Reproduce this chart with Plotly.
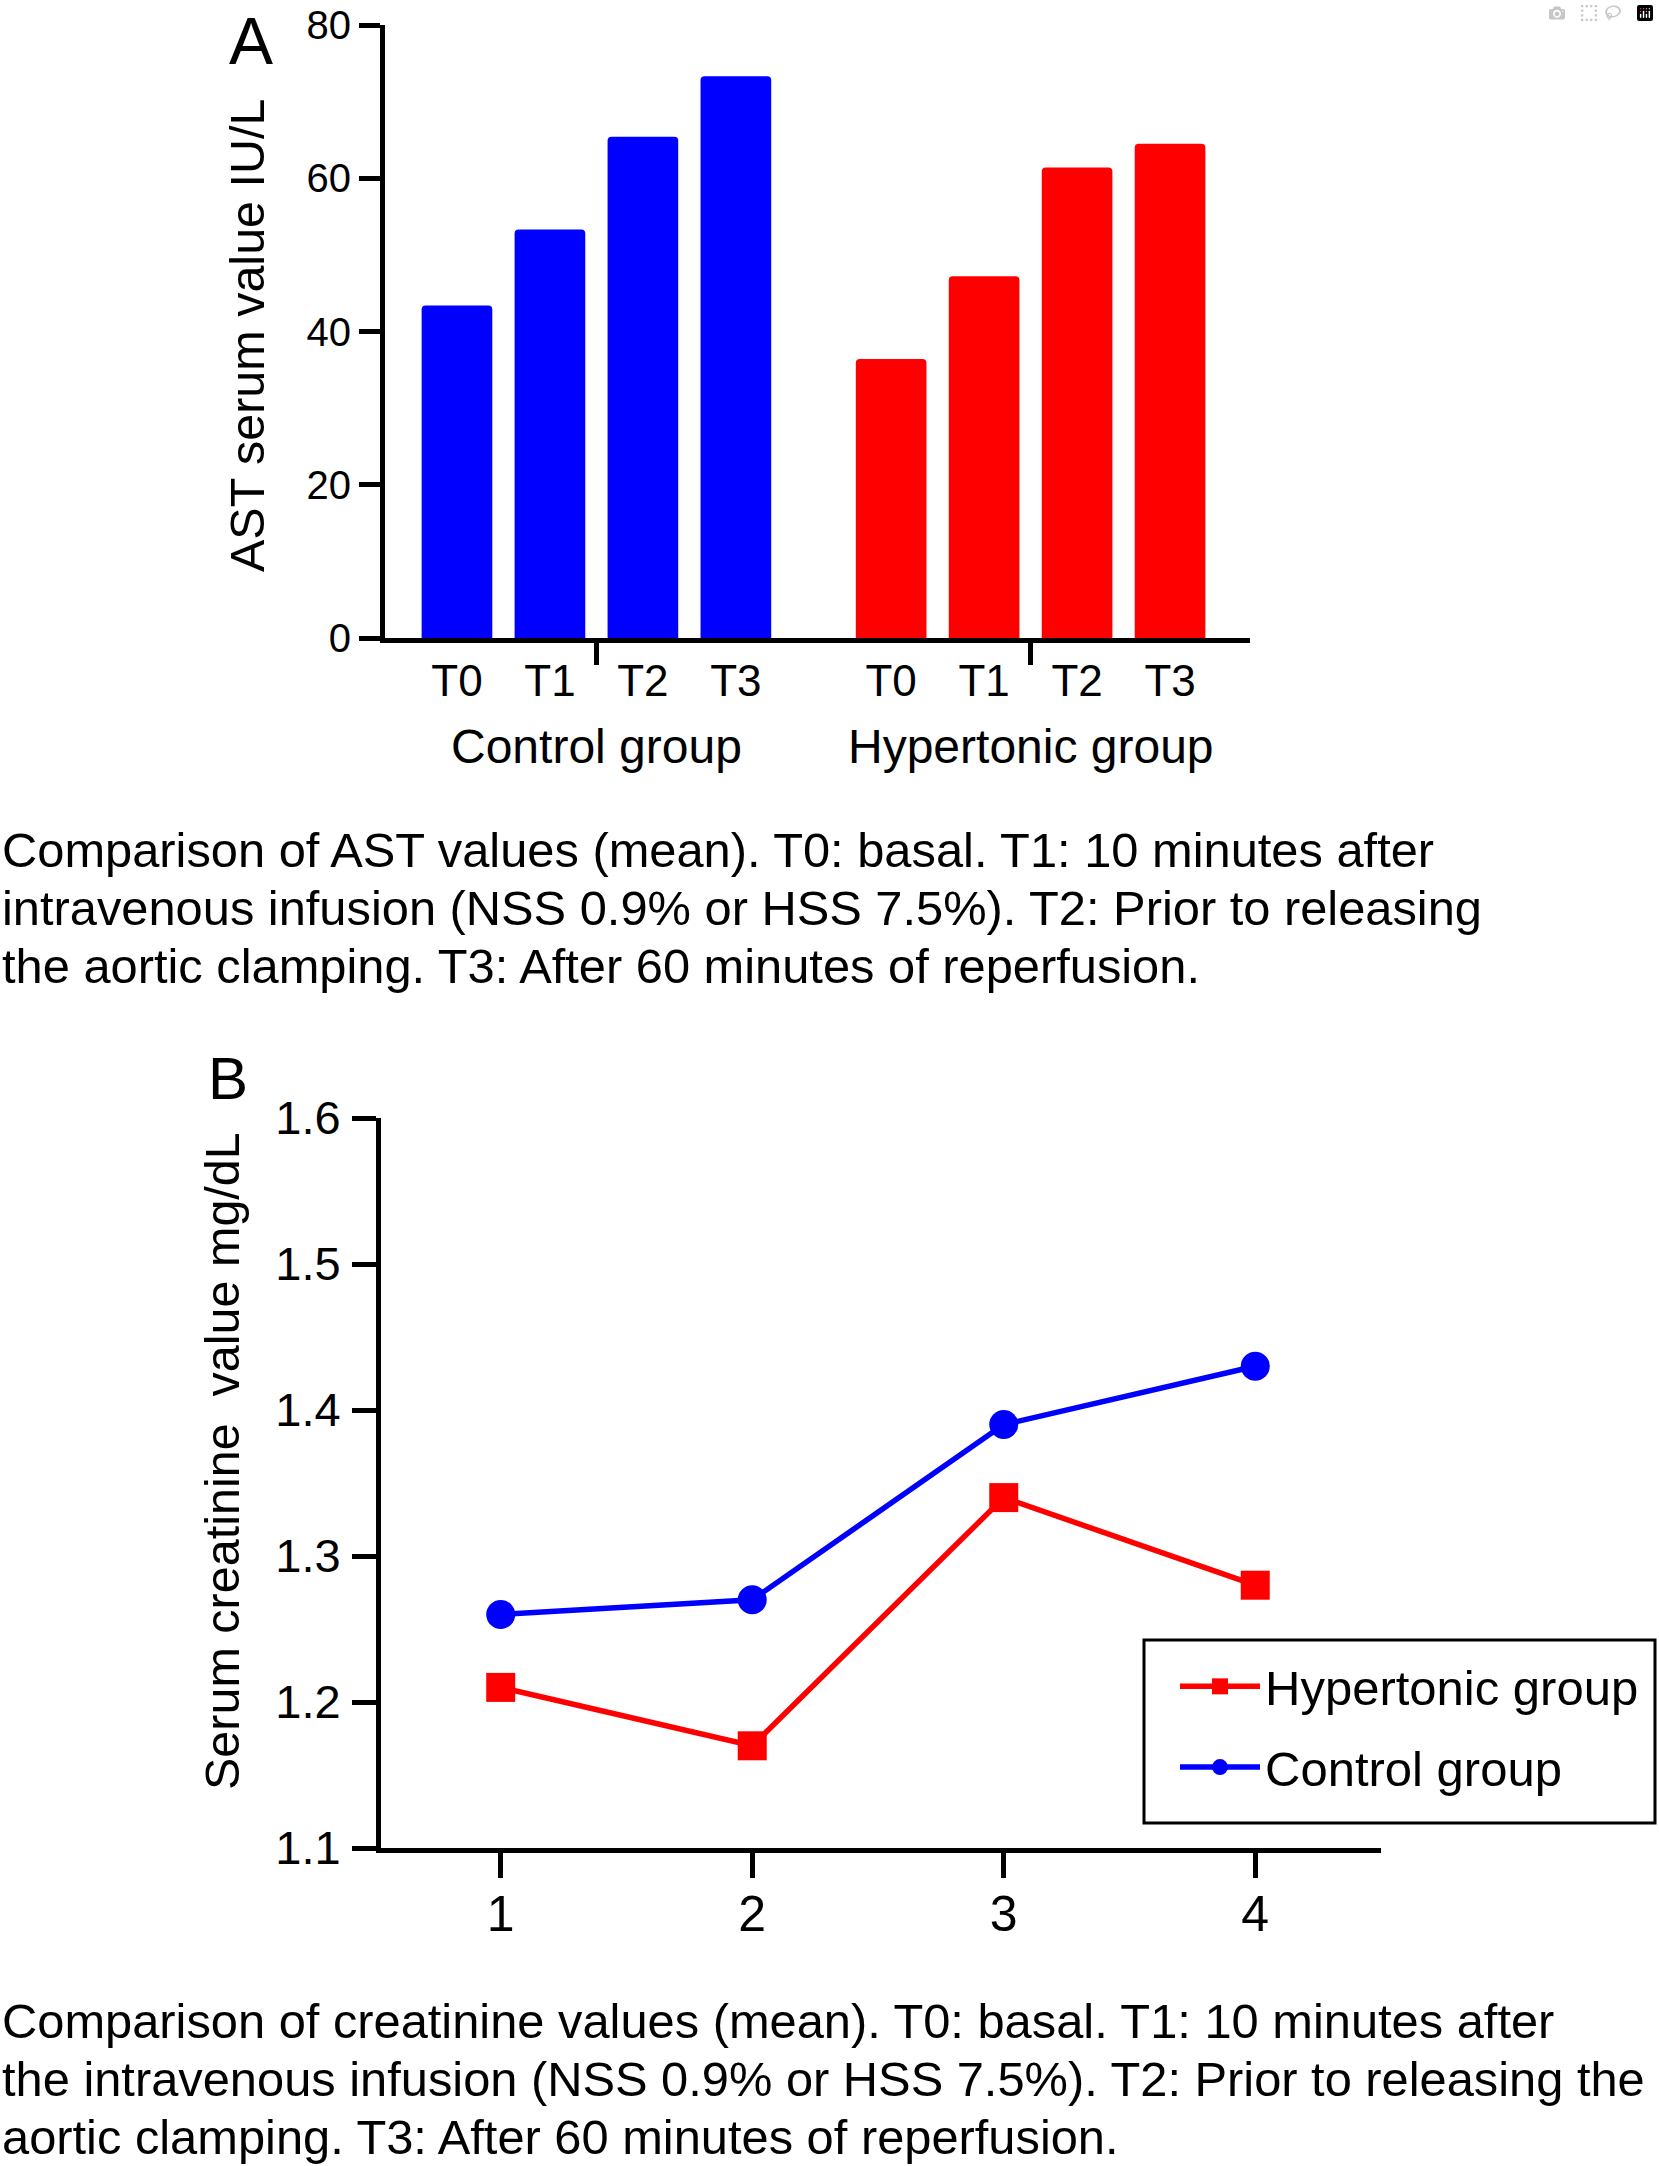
import plotly.graph_objects as go

# Panel A - AST serum values (mean, IU/L)
time_labels = ["T0", "T1", "T2", "T3"]
group_names = ["Control group", "Hypertonic group"]
ast_control = [43.4, 53.3, 65.4, 73.3]
ast_hypertonic = [36.4, 47.2, 61.4, 64.5]

# Panel B - serum creatinine (mean, mg/dL)
sample_points = [1, 2, 3, 4]
creat_hypertonic = [1.21, 1.17, 1.34, 1.28]
creat_control = [1.26, 1.27, 1.39, 1.43]

caption_a = [
    "Comparison of AST values (mean). T0: basal. T1: 10 minutes after",
    "intravenous infusion (NSS 0.9% or HSS 7.5%). T2: Prior to releasing",
    "the aortic clamping. T3: After 60 minutes of reperfusion.",
]
caption_b = [
    "Comparison of creatinine values (mean). T0: basal. T1: 10 minutes after",
    "the intravenous infusion (NSS 0.9% or HSS 7.5%). T2: Prior to releasing the",
    "aortic clamping. T3: After 60 minutes of reperfusion.",
]

W, H = 1659, 2166
FONT = "Liberation Sans, Arial, Helvetica, sans-serif"
BLUE = "#0000ff"
RED = "#ff0000"


def px_x(px):
    return px / W


def px_y(py):
    return 1 - py / H


# bar layout: 4 bars per group, gap between the groups
group_step = 4.67
bar_x = [[i + g * group_step for i in range(len(time_labels))] for g in range(2)]
group_centers = [sum(xs) / len(xs) for xs in bar_x]

fig = go.Figure()

fig.add_trace(go.Bar(x=bar_x[0], y=ast_control, width=0.76,
                     marker=dict(color=BLUE, line_width=0, cornerradius=4),
                     showlegend=False, xaxis="x", yaxis="y"))
fig.add_trace(go.Bar(x=bar_x[1], y=ast_hypertonic, width=0.76,
                     marker=dict(color=RED, line_width=0, cornerradius=4),
                     showlegend=False, xaxis="x", yaxis="y"))

fig.add_trace(go.Scatter(x=sample_points, y=creat_hypertonic, mode="lines+markers",
                         name="Hypertonic group", legendgroup="h",
                         line=dict(color=RED, width=5.5),
                         marker=dict(symbol="square", size=29, color=RED),
                         xaxis="x2", yaxis="y2"))
fig.add_trace(go.Scatter(x=sample_points, y=creat_control, mode="lines+markers",
                         name="Control group", legendgroup="c",
                         line=dict(color=BLUE, width=5.5),
                         marker=dict(symbol="circle", size=29, color=BLUE),
                         xaxis="x2", yaxis="y2"))

axis_common = dict(showline=True, linecolor="black", linewidth=5,
                   showgrid=False, zeroline=False, tickcolor="black",
                   tickwidth=5, automargin=False, fixedrange=True)

# x ranges chosen so the axis frame starts where the reference puts it
xr_a = [-0.774, 8.53]
xr_b = [0.524, 4.5]
fig.update_layout(
    width=W, height=H,
    margin=dict(l=0, r=0, t=0, b=0, autoexpand=False),
    paper_bgcolor="white", plot_bgcolor="white",
    font=dict(family=FONT, color="black"),
    barmode="overlay",
    xaxis=dict(axis_common, domain=[px_x(385), px_x(1250)], range=xr_a,
               anchor="y", tickvals=[v for xs in bar_x for v in xs],
               ticktext=time_labels * 2, ticks="", ticklabelstandoff=0,
               tickfont=dict(size=44),
               minor=dict(tickmode="array", tickvals=group_centers,
                          ticks="outside", ticklen=22, tickwidth=5,
                          tickcolor="black", showgrid=False)),
    yaxis=dict(axis_common, domain=[px_y(638), px_y(25)], range=[0, 80],
               anchor="x", tickvals=[0, 20, 40, 60, 80], ticks="outside",
               ticklen=21, ticklabelstandoff=0, tickfont=dict(size=40)),
    xaxis2=dict(axis_common, domain=[px_x(381), px_x(1381)], range=xr_b,
                anchor="y2", tickvals=sample_points, ticks="outside",
                ticklen=25, ticklabelstandoff=-7, tickfont=dict(size=50)),
    yaxis2=dict(axis_common, domain=[px_y(1848), px_y(1118)], range=[1.1, 1.6],
                anchor="x2", tickvals=[1.1, 1.2, 1.3, 1.4, 1.5, 1.6],
                tickformat=".1f", ticks="outside", ticklen=24,
                ticklabelstandoff=2, tickfont=dict(size=47)),
    legend=dict(x=px_x(1150), y=px_y(1648), xanchor="left", yanchor="top",
                borderwidth=0, bgcolor="rgba(0,0,0,0)",
                font=dict(size=49), itemwidth=80, indentation=25,
                tracegroupgap=14, traceorder="grouped"),
    showlegend=True,
    # frame drawn around the legend
    shapes=[dict(type="rect", xref="paper", yref="paper",
                 x0=px_x(1144), x1=px_x(1655), y0=px_y(1823), y1=px_y(1640),
                 line=dict(color="black", width=3))],
)

annotations = [
    dict(text="A", x=px_x(251), y=px_y(41), font=dict(size=66)),
    dict(text="B", x=px_x(228), y=px_y(1078), font=dict(size=60)),
    dict(text="AST serum value IU/L", x=px_x(247), y=px_y(335),
         textangle=-90, font=dict(size=48.5)),
    dict(text="Serum creatinine \u00a0value mg/dL", x=px_x(222), y=px_y(1461),
         textangle=-90, font=dict(size=48.5)),
]
for i, line in enumerate(caption_a):
    annotations.append(dict(text=line, x=0, y=px_y(850 + 58 * i),
                            xanchor="left", font=dict(size=48.8)))
for i, line in enumerate(caption_b):
    annotations.append(dict(text=line, x=0, y=px_y(2021 + 58 * i),
                            xanchor="left", font=dict(size=48.8)))

for a in annotations:
    a.setdefault("xanchor", "center")
    a.update(xref="paper", yref="paper", yanchor="middle", showarrow=False)

# group names under the time labels, centred on the group ticks
for name, xc in zip(group_names, group_centers):
    annotations.append(dict(text=name, x=xc, xref="x", y=px_y(746),
                            yref="paper", yanchor="middle", showarrow=False,
                            font=dict(size=48)))

fig.update_layout(annotations=annotations)

fig.write_html("out.html", post_script="document.body.style.margin='0';")
